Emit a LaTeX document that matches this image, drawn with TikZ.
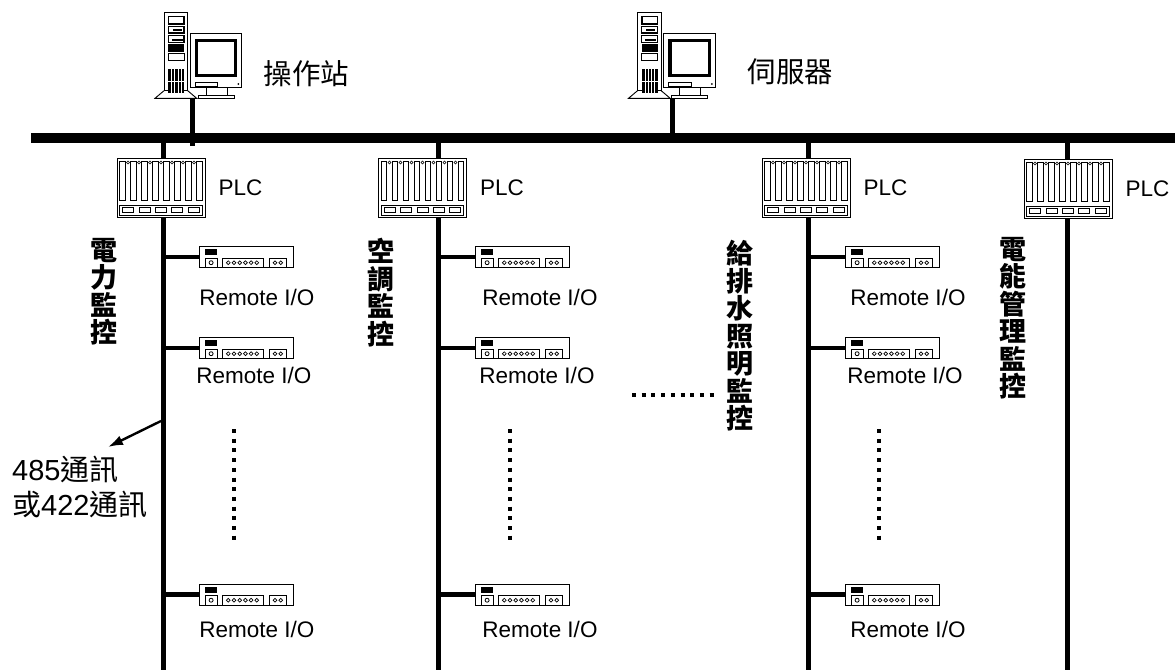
\documentclass[tikz,border=0pt]{standalone}
\usepackage{fontspec}
\setmainfont{Liberation Sans}
\newfontfamily\cjk{Noto Sans CJK TC}
\usetikzlibrary{arrows.meta,positioning}
\newcommand{\stackfont}{\cjk\bfseries\fontsize{27}{27.5}\selectfont\setlength{\lineskiplimit}{-100pt}}
\tikzset{
pics/plcslots/.style={code={
\foreach \i in {0,...,7}{\draw[line width=.8pt] (-41.3+11*\i,-26.5) rectangle ++(5.6,39.5);}
\foreach \i in {0,...,6}{\draw[line width=.6pt] (-33+11*\i,-25) circle (1.5);}
\draw[line width=.9pt] (-41.3,17.8) rectangle (41.3,27.5);
\foreach \i in {-2,...,2}{\draw[line width=.9pt] (16.4*\i-5.5,20) rectangle ++(11,5);}
}},
pics/riopanel/.style={code={
\fill (-41,-8) rectangle (-28.7,-2);
\draw[line width=.9pt] (-41,1) rectangle (-28.7,10.5);
\draw[line width=.8pt] (-34.9,5.7) circle (2);
\draw[line width=.9pt] (-23.3,1) rectangle (17.3,10.5);
\foreach \i in {0,...,5}{\draw[line width=.7pt] (-17.7+5.7*\i,5.7) circle (1.9);}
\draw[line width=.9pt] (23.3,1) rectangle (40.7,10.5);
\foreach \i in {0,1}{\draw[line width=.7pt] (29+5.7*\i,5.7) circle (1.9);}
}},
pics/pcset/.style={code={
\draw[line width=.9pt] (-34.5,-42.7) rectangle (-10.8,35.7);
\draw[line width=.9pt] (-34.5,35.7)--(-43.5,43.3)--(-1.8,43.3)--(-10.8,35.7);
\draw[line width=1.4pt] (-30.2,-38.3) rectangle (-14.5,-31);
\draw[line width=1.2pt] (-30.2,-28.3) rectangle (-14.5,-22);
\fill (-26,-26) rectangle (-17,-24);
\draw[line width=1.2pt] (-30.2,-19.3) rectangle (-14.5,-12.3);
\fill (-27,-16.5) rectangle (-16,-14.5);
\fill (-30.2,-10.7) rectangle (-14.5,-3.3);
\draw[line width=.8pt] (-30.2,-1.7) rectangle (-14.5,5.7);
\fill (-30.2,14) rectangle (-14.5,38);
\foreach \i in {0,...,3}{\draw[white,line width=.7pt] (-27+3.2*\i,14)--(-27+3.2*\i,38);}
\draw[white,line width=.8pt] (-30.2,26)--(-14.5,26);
\draw[line width=.9pt,fill=white] (-8.5,-21.7) rectangle (43.2,32.3);
\draw[line width=3.2pt] (-2,-14.2) rectangle (37.3,20.8);
\draw[line width=.8pt] (-3.5,27) rectangle (19,31);
\fill (39.8,29) circle (1);
\draw[line width=.9pt] (7.5,32.3)--(7.5,40) (28.5,32.3)--(28.5,40);
\draw[line width=.9pt] (-.2,40) rectangle (35.5,43.3);
}},
busline/.style={line width=9.5pt},
trunk/.style={line width=5pt},
branch/.style={line width=4.5pt},
dotrow/.style={line width=4pt,dash pattern=on 4pt off 5.7pt},
plcbox/.style={draw,fill=white,line width=.9pt,minimum width=88pt,minimum height=59pt,inner sep=0pt},
riobox/.style={draw,fill=white,line width=.9pt,minimum width=94pt,minimum height=21pt,inner sep=0pt},
pcbox/.style={minimum width=87pt,minimum height=86pt,inner sep=0pt},
lbl/.style={inner sep=0pt,font=\fontsize{22.5}{25}\selectfont},
toplbl/.style={inner sep=0pt,font=\cjk\fontsize{28.5}{32}\selectfont},
vertlbl/.style={inner sep=0pt,anchor=north,align=center,font=\stackfont},
}
\begin{document}
\begin{tikzpicture}[x=1pt,y=-1pt]
\useasboundingbox (0,0) rectangle (1175,670);
\coordinate (busL) at (31,138);
\coordinate (busR) at (1175,138);
\coordinate (topA) at (163,138);
\coordinate (topB) at (438,138);
\coordinate (topC) at (808,138);
\coordinate (topD) at (1067,138);
\coordinate (endA) at (163,670);
\coordinate (endB) at (438,670);
\coordinate (endC) at (808,670);
\coordinate (endD) at (1067,670);
\coordinate (tapA) at (192,146);
\coordinate (tapB) at (672,138);
\draw[busline] (busL)--(busR);
\draw[trunk] (topA)--(endA);
\draw[trunk] (topB)--(endB);
\draw[trunk] (topC)--(endC);
\draw[trunk] (topD)--(endD);
\node[pcbox] (pcA) at (198.5,55) {};
\node[pcbox] (pcB) at (672,55) {};
\pic at (pcA) {pcset};
\pic at (pcB) {pcset};
\draw[trunk] (pcA.south -| tapA)--(tapA);
\draw[trunk] (pcB.south -| tapB)--(tapB);
\node[toplbl] (opst) at (306.5,74) {操作站};
\node[toplbl] (srv) at (790.5,72) {伺服器};
\node[plcbox] (plcA) at (161,187.5) {};
\node[plcbox] (plcB) at (422.5,187.5) {};
\node[plcbox] (plcC) at (806,187.5) {};
\node[plcbox] (plcD) at (1068,188.5) {};
\pic at (plcA) {plcslots};
\pic at (plcB) {plcslots};
\pic at (plcC) {plcslots};
\pic at (plcD) {plcslots};
\node[lbl,right=13pt of plcA] (plcAname) {PLC};
\node[lbl,right=13pt of plcB] (plcBname) {PLC};
\node[lbl,right=13pt of plcC] (plcCname) {PLC};
\node[lbl,right=13pt of plcD] (plcDname) {PLC};
\node[riobox] (rioAa) at (246,257) {};
\node[riobox] (rioAb) at (246,348) {};
\node[riobox] (rioAc) at (246,594.5) {};
\node[riobox] (rioBa) at (522,257) {};
\node[riobox] (rioBb) at (522,348) {};
\node[riobox] (rioBc) at (522,594.5) {};
\node[riobox] (rioCa) at (892,257) {};
\node[riobox] (rioCb) at (892,348) {};
\node[riobox] (rioCc) at (892,594.5) {};
\pic at (rioAa) {riopanel};
\pic at (rioAb) {riopanel};
\pic at (rioAc) {riopanel};
\pic at (rioBa) {riopanel};
\pic at (rioBb) {riopanel};
\pic at (rioBc) {riopanel};
\pic at (rioCa) {riopanel};
\pic at (rioCb) {riopanel};
\pic at (rioCc) {riopanel};
\draw[branch] (rioAa.west -| topA)--(rioAa.west);
\draw[branch] (rioAb.west -| topA)--(rioAb.west);
\draw[branch] (rioAc.west -| topA)--(rioAc.west);
\draw[branch] (rioBa.west -| topB)--(rioBa.west);
\draw[branch] (rioBb.west -| topB)--(rioBb.west);
\draw[branch] (rioBc.west -| topB)--(rioBc.west);
\draw[branch] (rioCa.west -| topC)--(rioCa.west);
\draw[branch] (rioCb.west -| topC)--(rioCb.west);
\draw[branch] (rioCc.west -| topC)--(rioCc.west);
\node[lbl] (nameAa) at (257,297) {Remote I/O};
\node[lbl] (nameAb) at (254,375) {Remote I/O};
\node[lbl] (nameAc) at (257,629) {Remote I/O};
\node[lbl] (nameBa) at (540,297) {Remote I/O};
\node[lbl] (nameBb) at (537,375) {Remote I/O};
\node[lbl] (nameBc) at (540,629) {Remote I/O};
\node[lbl] (nameCa) at (908,297) {Remote I/O};
\node[lbl] (nameCb) at (905,375) {Remote I/O};
\node[lbl] (nameCc) at (908,629) {Remote I/O};
\node[vertlbl] (sysA) at (104,238) {電\\力\\監\\控};
\node[vertlbl] (sysB) at (381,238) {空\\調\\監\\控};
\node[vertlbl] (sysC) at (740,240) {給\\排\\水\\照\\明\\監\\控};
\node[vertlbl] (sysD) at (1013,237) {電\\能\\管\\理\\監\\控};
\draw[dotrow] (234,429)--(234,541);
\draw[dotrow] (510,429)--(510,541);
\draw[dotrow] (879,429)--(879,541);
\draw[dotrow] (632,395)--(714,395);
\coordinate (tagA) at (161,421);
\node[inner sep=0pt,align=left,anchor=north west,font=\fontsize{29}{35}\selectfont] (linktag) at (12,456) {485{\cjk 通訊}\\{\cjk 或}422{\cjk 通訊}};
\draw[-{Latex[length=15pt,width=10pt]},line width=2.4pt] (tagA)--(108,447);
\end{tikzpicture}
\end{document}
